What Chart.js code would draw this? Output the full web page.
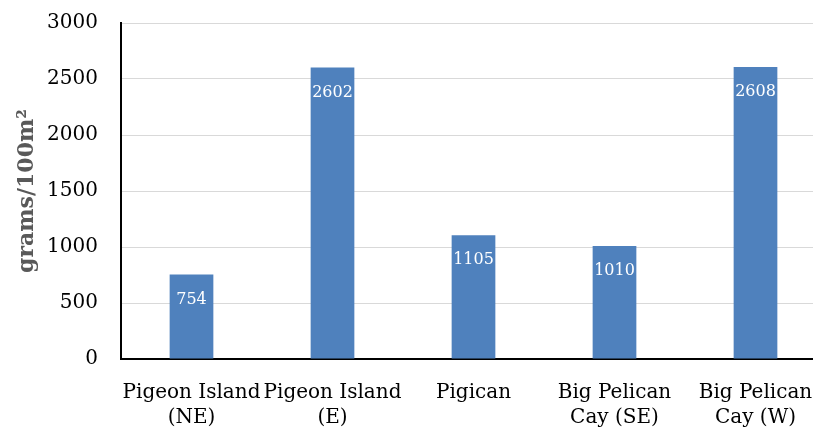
<!DOCTYPE html>
<html>
<head>
<meta charset="utf-8">
<script src="https://cdn.jsdelivr.net/npm/chart.js@4/dist/chart.umd.min.js"></script>
<style>
  html, body { margin: 0; padding: 0; background: #fff; overflow: hidden; }
  #wrap { width: 826px; height: 431px; }
</style>
</head>
<body>
<div id="wrap"><canvas id="biomassChart"></canvas></div>
<script>
// sites and biomass per 100 m2
const sites = [
    ['Pigeon Island', '(NE)'],
    ['Pigeon Island', '(E)'],
    'Pigican',
    ['Big Pelican', 'Cay (SE)'],
    ['Big Pelican', 'Cay (W)']
];
const biomass = [754, 2602, 1105, 1010, 2608];
const yTicks = [0, 500, 1000, 1500, 2000, 2500, 3000];

const serif = '"DejaVu Serif", "Liberation Serif", serif';

// white value inside the top of each bar
const barValues = {
    id: 'barValues',
    afterDatasetsDraw(chart) {
        const ctx = chart.ctx;
        const meta = chart.getDatasetMeta(0);
        ctx.save();
        ctx.fillStyle = '#ffffff';
        ctx.font = '16px ' + serif;
        ctx.textAlign = 'center';
        ctx.textBaseline = 'middle';
        meta.data.forEach((bar, i) => {
            ctx.fillText(String(biomass[i]), bar.x, bar.y + 25);
        });
        ctx.restore();
    }
};

document.addEventListener('DOMContentLoaded', () => {
    const ctx = document.getElementById('biomassChart').getContext('2d');
    new Chart(ctx, {
        type: 'bar',
        data: {
            labels: sites,
            datasets: [{
                label: '',
                data: biomass,
                backgroundColor: '#4F81BD',
                borderWidth: 0,
                barPercentage: 0.31,
                categoryPercentage: 1
            }]
        },
        options: {
            responsive: true,
            maintainAspectRatio: false,
            animation: false,
            layout: { padding: { top: 23, right: 0, left: 0, bottom: 0 } },
            scales: {
                x: {
                    grid: { display: false, drawTicks: false },
                    border: { color: '#000000', width: 2 },
                    ticks: {
                        color: '#000000',
                        font: { family: serif, size: 20, lineHeight: 1.25 },
                        padding: 21,
                        maxRotation: 0,
                        autoSkip: false
                    },
                    afterFit(scale) {
                        scale.height = 72;
                        scale.paddingLeft = 0;
                        scale.paddingRight = 0;
                    }
                },
                y: {
                    min: 0,
                    max: 3000,
                    afterBuildTicks(scale) {
                        scale.ticks = yTicks.map(v => ({ value: v }));
                    },
                    grid: { color: '#d9d9d9', lineWidth: 1, drawTicks: false },
                    border: { color: '#000000', width: 2 },
                    ticks: {
                        color: '#000000',
                        font: { family: serif, size: 20 },
                        padding: 23,
                        callback: v => String(v)
                    },
                    title: {
                        display: true,
                        text: 'grams/100m²',
                        color: '#595959',
                        font: { family: serif, size: 22, weight: 'bold' },
                        padding: { top: 14, bottom: 0 }
                    },
                    afterFit(scale) {
                        scale.width = 121;
                        scale.paddingTop = 0;
                        scale.paddingBottom = 0;
                    }
                }
            },
            plugins: {
                legend: { display: false },
                tooltip: { enabled: false }
            }
        },
        plugins: [barValues]
    });
});
</script>
</body>
</html>
